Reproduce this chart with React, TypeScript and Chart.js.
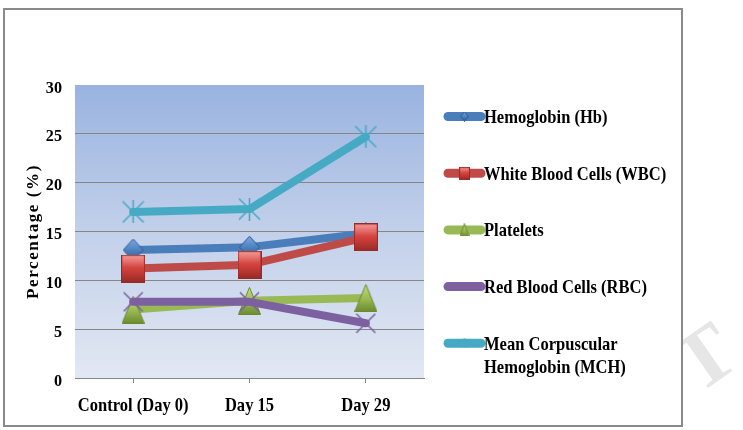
import { useEffect, useRef } from "react";
import { Chart, registerables } from "chart.js";

Chart.register(...registerables);

// Sampling days on the category axis
const categories = ["Control (Day 0)", "Day 15", "Day 29"];

// Percentage values per parameter
const hemoglobin = [13.1, 13.4, 14.8];
const whiteBloodCells = [11.2, 11.6, 14.4];
const platelets = [7.0, 7.9, 8.2];
const redBloodCells = [7.8, 7.8, 5.6];
const meanCorpuscularHb = [17.0, 17.3, 24.7];

// Legend entries (multi-line names as arrays)
const seriesNames: (string | string[])[] = [
  "Hemoglobin (Hb)",
  "White Blood Cells (WBC)",
  "Platelets",
  "Red Blood Cells (RBC)",
  ["Mean Corpuscular", "Hemoglobin (MCH)"],
];

const yTicks = [0, 5, 10, 15, 20, 25, 30];
const yTitle = "Percentage (%)";

const SERIF = '"Liberation Serif", "Times New Roman", serif';

type MarkerKind = "diamond" | "rect" | "triangle" | "cross" | "star";

function makeMarker(kind: MarkerKind, color: string, light: string, dark: string, s: number): HTMLCanvasElement {
  const c = document.createElement("canvas");
  const dims: Record<MarkerKind, [number, number]> = {
    diamond: [21, 23],
    rect: [24, 28],
    triangle: [23, 28],
    cross: [21, 21],
    star: [23, 23],
  };
  const [w0, h0] = dims[kind];
  const w = Math.max(2, Math.round(w0 * s));
  const h = Math.max(2, Math.round(h0 * s));
  c.width = w;
  c.height = h;
  const ctx = c.getContext("2d")!;
  const g = ctx.createLinearGradient(0, 0, 0, h);
  g.addColorStop(0, light);
  g.addColorStop(0.55, color);
  g.addColorStop(1, dark);
  ctx.fillStyle = g;
  ctx.strokeStyle = dark;
  ctx.lineWidth = 1;
  if (kind === "diamond") {
    ctx.beginPath();
    ctx.moveTo(w / 2, 0.5);
    ctx.lineTo(w - 0.5, h / 2);
    ctx.lineTo(w / 2, h - 0.5);
    ctx.lineTo(0.5, h / 2);
    ctx.closePath();
    ctx.fill();
    ctx.stroke();
  } else if (kind === "rect") {
    ctx.fillRect(0.5, 0.5, w - 1, h - 1);
    ctx.strokeRect(0.5, 0.5, w - 1, h - 1);
    // soft highlight for the bevelled look
    const hl = ctx.createLinearGradient(0, 0, 0, h * 0.45);
    hl.addColorStop(0, "rgba(255,255,255,0.35)");
    hl.addColorStop(1, "rgba(255,255,255,0)");
    ctx.fillStyle = hl;
    ctx.fillRect(1.5, 1.5, w - 3, h * 0.45);
  } else if (kind === "triangle") {
    ctx.beginPath();
    ctx.moveTo(w / 2, 0.5);
    ctx.lineTo(w - 0.5, h - 0.5);
    ctx.lineTo(0.5, h - 0.5);
    ctx.closePath();
    ctx.fill();
    ctx.stroke();
  } else {
    ctx.strokeStyle = color;
    ctx.lineWidth = Math.max(1, 1.6 * s);
    ctx.beginPath();
    ctx.moveTo(1, 1);
    ctx.lineTo(w - 1, h - 1);
    ctx.moveTo(w - 1, 1);
    ctx.lineTo(1, h - 1);
    if (kind === "star") {
      ctx.moveTo(w / 2, 0);
      ctx.lineTo(w / 2, h);
    }
    ctx.stroke();
  }
  return c;
}

interface SeriesStyle {
  data: number[];
  line: string;
  kind: MarkerKind;
  marker: string;
  light: string;
  dark: string;
}

const styles: SeriesStyle[] = [
  { data: hemoglobin, line: "#4a7ebb", kind: "diamond", marker: "#4a7ebb", light: "#7eaaea", dark: "#2c5a94" },
  { data: whiteBloodCells, line: "#be4b48", kind: "rect", marker: "#cf3f3a", light: "#ec6a66", dark: "#962a26" },
  { data: platelets, line: "#98b954", kind: "triangle", marker: "#98b954", light: "#c4e07e", dark: "#6b8a2e" },
  { data: redBloodCells, line: "#7d60a0", kind: "cross", marker: "#7d60a0", light: "#7d60a0", dark: "#7d60a0" },
  { data: meanCorpuscularHb, line: "#46aac5", kind: "star", marker: "#46aac5", light: "#46aac5", dark: "#46aac5" },
];

function drawText(
  ctx: CanvasRenderingContext2D,
  text: string,
  x: number,
  y: number,
  align: CanvasTextAlign,
  size: number,
  sx: number
) {
  ctx.save();
  ctx.font = `bold ${size}px ${SERIF}`;
  ctx.fillStyle = "#000";
  ctx.textBaseline = "alphabetic";
  ctx.textAlign = align;
  ctx.translate(x, y);
  ctx.scale(sx, 1);
  ctx.fillText(text, 0, 0);
  ctx.restore();
}

export default function App() {
  const ref = useRef<HTMLCanvasElement | null>(null);

  useEffect(() => {
    document.body.style.margin = "0";
    const canvas = ref.current!;
    const legendMarkers = styles.map((s) => makeMarker(s.kind, s.marker, s.light, s.dark, 0.45));

    const framePlugin = {
      id: "frame",
      beforeDraw(chart: Chart) {
        const ctx = chart.ctx;
        const { left, right, top, bottom } = chart.chartArea;
        ctx.save();
        ctx.fillStyle = "#fff";
        ctx.fillRect(0, 0, chart.width, chart.height);
        // faint page watermark behind the chart box
        ctx.save();
        ctx.translate(708, 362);
        ctx.rotate((-35 * Math.PI) / 180);
        ctx.font = `bold 82px ${SERIF}`;
        ctx.fillStyle = "#e6e6e6";
        ctx.textAlign = "center";
        ctx.textBaseline = "middle";
        ctx.fillText("T", 0, 0);
        ctx.restore();
        // chart box
        ctx.fillStyle = "#fff";
        ctx.fillRect(4, 9, 678, 417);
        ctx.strokeStyle = "#8a8a8a";
        ctx.lineWidth = 2;
        ctx.strokeRect(4, 9, 678, 417);
        // plot area gradient
        const g = ctx.createLinearGradient(0, top, 0, bottom);
        g.addColorStop(0, "#99b3e0");
        g.addColorStop(0.5, "#c2d0ea");
        g.addColorStop(1, "#e2e8f3");
        ctx.fillStyle = g;
        ctx.fillRect(left, top, right - left, bottom - top);
        ctx.restore();
      },
      afterDraw(chart: Chart) {
        const ctx = chart.ctx;
        const xs = chart.scales.x;
        const ys = chart.scales.y;
        const area = chart.chartArea;

        categories.forEach((c, i) => {
          drawText(ctx, c, xs.getPixelForValue(i), area.bottom + 33, "center", 19, 0.87);
        });
        yTicks.forEach((v) => {
          drawText(ctx, String(v), area.left - 13, ys.getPixelForValue(v) + 7.5, "right", 17, 0.95);
        });

        // rotated axis title
        ctx.save();
        ctx.translate(38, (area.top + area.bottom) / 2);
        ctx.rotate(-Math.PI / 2);
        ctx.font = `bold 17px ${SERIF}`;
        (ctx as any).letterSpacing = "1.6px";
        ctx.fillStyle = "#000";
        ctx.textAlign = "center";
        ctx.textBaseline = "alphabetic";
        ctx.fillText(yTitle, 0, 0);
        ctx.restore();

        // legend
        const lineX0 = 448;
        const lineX1 = 481;
        const textX = 484;
        const firstBaseline = 123;
        const step = 56.7;
        seriesNames.forEach((name, i) => {
          const base = firstBaseline + i * step;
          const cy = base - 6.5;
          ctx.save();
          ctx.strokeStyle = styles[i].line;
          ctx.lineWidth = 9;
          ctx.lineCap = "round";
          ctx.beginPath();
          ctx.moveTo(lineX0, cy);
          ctx.lineTo(lineX1, cy);
          ctx.stroke();
          const m = legendMarkers[i];
          ctx.drawImage(m, (lineX0 + lineX1) / 2 - m.width / 2, cy - m.height / 2);
          ctx.restore();
          const lines = Array.isArray(name) ? name : [name];
          lines.forEach((t, k) => {
            drawText(ctx, t, textX, base + k * 23.5, "left", 19, 0.87);
          });
        });
      },
    };

    const chart = new Chart(canvas, {
      type: "line",
      data: {
        labels: categories,
        datasets: styles.map((s, i) => ({
          label: Array.isArray(seriesNames[i]) ? (seriesNames[i] as string[]).join(" ") : (seriesNames[i] as string),
          data: s.data,
          borderColor: s.line,
          borderWidth: 8,
          borderJoinStyle: "round" as const,
          borderCapStyle: "round" as const,
          pointStyle: makeMarker(s.kind, s.marker, s.light, s.dark, 1),
          pointRadius: 12,
          pointHoverRadius: 12,
          tension: 0,
          fill: false,
          order: styles.length - i,
        })),
      },
      options: {
        responsive: false,
        animation: false,
        devicePixelRatio: 1,
        layout: { padding: { left: 0, top: 85, right: 319, bottom: 0 } },
        plugins: {
          legend: { display: false },
          tooltip: { enabled: false },
          title: { display: false },
        },
        scales: {
          x: {
            type: "category",
            offset: true,
            grid: {
              offset: false,
              drawOnChartArea: false,
              drawTicks: true,
              tickLength: 5,
              color: "#868686",
            },
            border: { display: true, color: "#868686" },
            ticks: { display: false },
            afterFit: (s: any) => {
              s.height = 52;
            },
          },
          y: {
            min: 0,
            max: 30,
            ticks: { stepSize: 5, display: false },
            grid: {
              drawTicks: false,
              color: (c: any) => (c.tick && c.tick.value === 30 ? "rgba(0,0,0,0)" : "#868686"),
            },
            border: { display: false },
            afterFit: (s: any) => {
              s.width = 75;
            },
          },
        },
      },
      plugins: [framePlugin],
    });

    return () => chart.destroy();
  }, []);

  return <canvas ref={ref} width={743} height={430} style={{ display: "block", width: 743, height: 430 }} />;
}
